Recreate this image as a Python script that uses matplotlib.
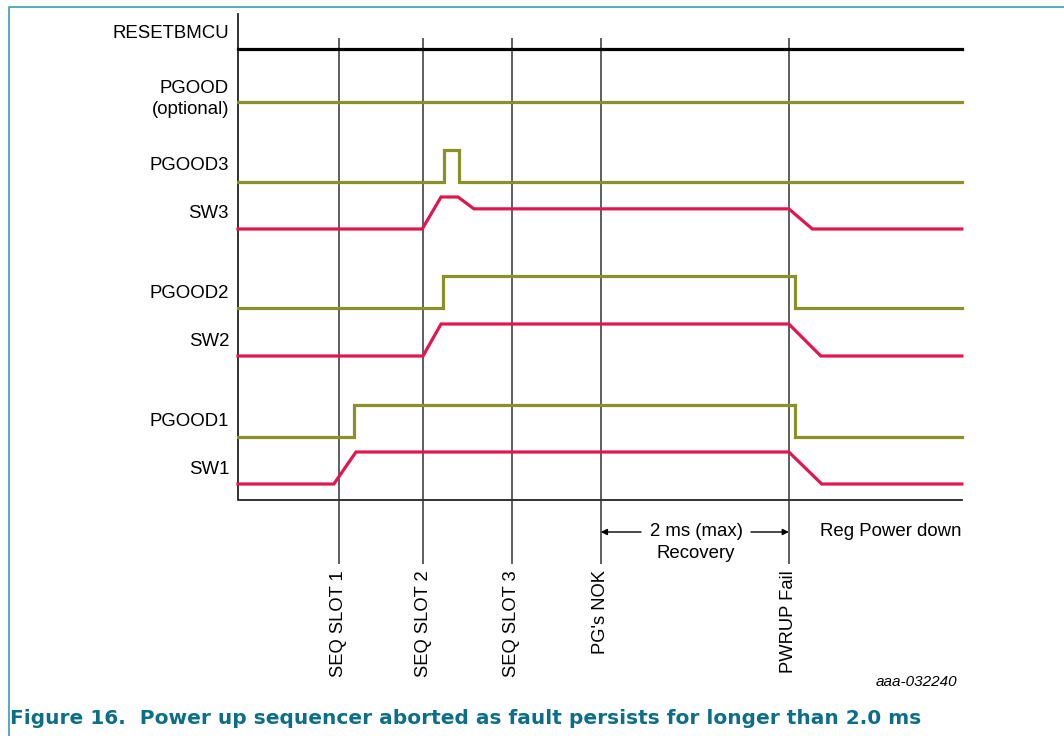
import matplotlib
matplotlib.use('Agg')
import matplotlib.pyplot as plt

plt.rcParams['font.family'] = ['Liberation Sans', 'DejaVu Sans']

# timing data, time in ms (t = 0 at the left edge of the diagram)
t_end = 7.70
events = [1.07, 1.97, 2.91, 3.86, 5.86]
event_labels = ['SEQ SLOT 1', 'SEQ SLOT 2', 'SEQ SLOT 3', "PG's NOK", 'PWRUP Fail']

sw1_t = [0, 1.02, 1.255, 5.86, 6.21, t_end]
sw1_v = [0, 0, 1, 1, 0, 0]
pg1_t = [0, 1.234, 1.234, 5.925, 5.925, t_end]
pg1_v = [0, 0, 1, 1, 0, 0]

sw2_t = [0, 1.968, 2.16, 5.86, 6.20, t_end]
sw2_v = [0, 0, 1, 1, 0, 0]
pg2_t = [0, 2.18, 2.18, 5.925, 5.925, t_end]
pg2_v = [0, 0, 1, 1, 0, 0]

sw3_t = [0, 1.96, 2.16, 2.34, 2.51, 5.86, 6.11, t_end]
sw3_v = [0, 0, 1, 1, 0.63, 0.63, 0, 0]
pg3_t = [0, 2.19, 2.19, 2.35, 2.35, t_end]
pg3_v = [0, 0, 1, 1, 0, 0]

pgood_t = [0, t_end]
pgood_v = [1, 1]
reset_t = [0, t_end]
reset_v = [1, 1]

OLIVE = '#8b9128'
RED = '#e2164f'
TEAL = '#0d6e87'

# rows: (name, times, values, colour, baseline px, label)
rows = [
    ('RESETBMCU', reset_t, reset_v, 'black', 81, 34),
    ('PGOOD\n(optional)', pgood_t, pgood_v, OLIVE, 134, 99),
    ('PGOOD3', pg3_t, pg3_v, OLIVE, 182, 166),
    ('SW3', sw3_t, sw3_v, RED, 229, 214),
    ('PGOOD2', pg2_t, pg2_v, OLIVE, 308, 293),
    ('SW2', sw2_t, sw2_v, RED, 356, 341),
    ('PGOOD1', pg1_t, pg1_v, OLIVE, 437, 421),
    ('SW1', sw1_t, sw1_v, RED, 484, 469),
]
AMP = 32
PX = 94.0   # pixels per ms
X0 = 238.0
FS = 13.4

fig = plt.figure(figsize=(10.64, 7.36), dpi=100)
ax = fig.add_axes([0, 0, 1, 1])
ax.set_xlim(-X0 / PX, (1064 - X0) / PX)
ax.set_ylim(736, 0)
ax.axis('off')

def tx(px):
    return (px - X0) / PX

for name, ts, vs, col, base, ylab in rows:
    ys = [base - AMP * v for v in vs]
    ax.plot(ts, ys, color=col, lw=2.3, solid_joinstyle='miter', zorder=3)
    ax.text(tx(229), ylab, name, ha='right', va='center', fontsize=FS,
            linespacing=1.32)

# axes of the diagram
ax.plot([0, 0, t_end], [14, 500, 500], color='#222222', lw=1.3, zorder=2)
ax.vlines(events, 38, 564, color='#333333', lw=1.1, zorder=2)
for t, lab in zip(events, event_labels):
    ax.text(t, 570, lab, rotation=90, ha='center', va='top', fontsize=13.2)

# recovery annotation
ax.text(tx(696), 531, '2 ms (max)', ha='center', va='center', fontsize=FS)
ax.text(tx(696), 553, 'Recovery', ha='center', va='center', fontsize=FS)
ax.annotate('', xy=(events[3], 532), xytext=(tx(641), 532),
            arrowprops=dict(arrowstyle='-|>', color='black', lw=1,
                            mutation_scale=9, shrinkA=0, shrinkB=0))
ax.annotate('', xy=(events[4], 532), xytext=(tx(751), 532),
            arrowprops=dict(arrowstyle='-|>', color='black', lw=1,
                            mutation_scale=9, shrinkA=0, shrinkB=0))
ax.text(t_end, 532, 'Reg Power down', ha='right', va='center', fontsize=FS)

ax.text(tx(957), 682, 'aaa-032240', ha='right', va='center', fontsize=11,
        style='italic')

# frame and caption
ax.plot([tx(9.5), tx(9.5), tx(1064)], [736, 6.5, 6.5], color='#4ba3b8',
        lw=1.3, clip_on=False)
ax.text(tx(10), 719, 'Figure 16.  Power up sequencer aborted as fault persists for longer than 2.0 ms',
        ha='left', va='center', fontsize=14.5, fontweight='bold', color=TEAL,
        family='DejaVu Sans')

fig.savefig('out.png', dpi=100)
